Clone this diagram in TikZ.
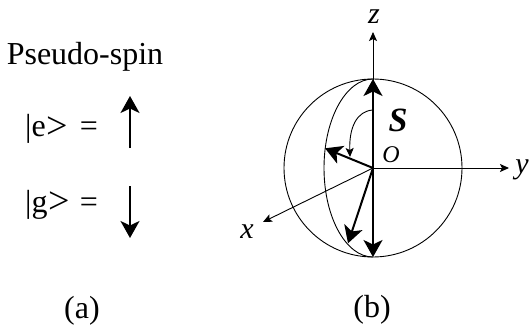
\documentclass[tikz,border=0pt]{standalone}
\usepackage{fontspec}
\setmainfont{Liberation Serif}
\usetikzlibrary{arrows.meta}
\begin{document}
\begin{tikzpicture}[x=1pt,y=1pt,
  thin line/.style={line width=0.9pt},
  thick arrow/.style={line width=2pt,-{Stealth[length=17pt,width=19pt,inset=4.5pt]}},
  axis arrow/.style={line width=0.9pt,-{Stealth[length=9pt,width=8pt,inset=2pt]}},
  big text/.style={font=\fontsize{32}{36}\selectfont, inner sep=0pt},
  axis label/.style={font=\fontsize{30}{34}\selectfont\itshape, inner sep=0pt}]
\useasboundingbox (0,0) rectangle (532,327);
% ---- panel (a)
\node[big text, anchor=base] (title) at (85,262) {Pseudo-spin};
\node[big text, anchor=base west] (ket e) at (25,190) {|e\kern1pt{\fontsize{38}{38}\selectfont\raisebox{-1pt}{>}}};
\node[big text, anchor=base] (eq e) at (89,190) {=};
\node[big text, anchor=base west] (ket g) at (25,115) {|g\kern1pt{\fontsize{38}{38}\selectfont\raisebox{-1pt}{>}}};
\node[big text, anchor=base] (eq g) at (89,115) {=};
\coordinate (up s) at (130,179);
\coordinate (up e) at (130,231);
\coordinate (dn s) at (130,141);
\coordinate (dn e) at (130,89);
\draw[thick arrow] (up s) -- (up e);
\draw[thick arrow] (dn s) -- (dn e);
\node[big text] (lab a) at (82,16) {(a)};
% ---- panel (b)
\coordinate (O) at (373,159);
\coordinate (N) at (373,248);
\coordinate (Sb) at (373,70);
\coordinate (zend) at (373,295);
\coordinate (yend) at (509,159);
\coordinate (xend) at (263,105);
\coordinate (v1) at (325,178.7);
\coordinate (v2) at (348,83.7);
\draw[thin line] (O) circle[radius=89];
\draw[thin line] (N) arc[start angle=90,end angle=270,x radius=49,y radius=89];
\draw[axis arrow] (O) -- (zend);
\draw[axis arrow] (O) -- (yend);
\draw[axis arrow] (O) -- (xend);
\draw[thick arrow] (O) -- (N);
\draw[thick arrow] (O) -- (Sb);
\draw[thick arrow] (O) -- (v1);
\draw[thick arrow] (O) -- (v2);
\coordinate (c s) at (373,217);
\coordinate (c e) at (350,170);
\draw[axis arrow] (c s) .. controls (357,216) and (349,200) .. (c e);
\node[axis label] (lz) at (374,310) {z};
\node[axis label] (ly) at (522,157) {y};
\node[axis label] (lx) at (247,95) {x};
\node[inner sep=0pt, font=\fontsize{34}{38}\selectfont\bfseries\itshape] (lS) at (398,207) {S};
\node[inner sep=0pt, font=\fontsize{24}{28}\selectfont\itshape] (lO) at (391,172) {O};
\node[big text] (lab b) at (372,17) {(b)};
\end{tikzpicture}
\end{document}
